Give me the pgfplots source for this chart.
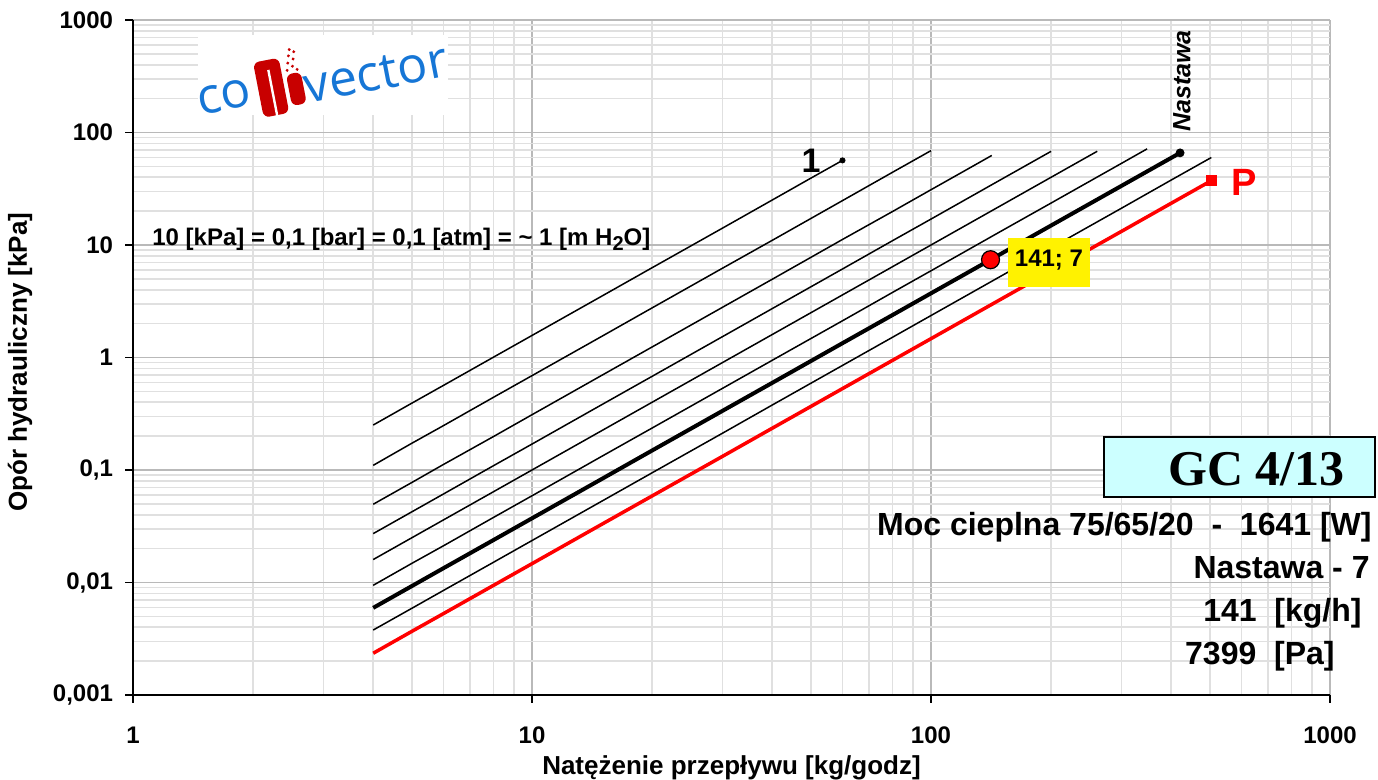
\documentclass[border=0pt]{standalone}
\usepackage{pgfplots}
\pgfplotsset{compat=1.18}
\usepackage{fontspec}
\setmainfont{Liberation Sans}
\newfontfamily\gcfont{Liberation Serif}
\newfontfamily\logofont{Open Sans}
\usepackage{graphicx}

\definecolor{majgrid}{RGB}{185,185,185}
\definecolor{mingrid}{RGB}{224,224,224}
\definecolor{logoblue}{RGB}{22,118,214}
\definecolor{logored}{RGB}{200,0,0}
\definecolor{gcbox}{RGB}{204,255,255}

\begin{document}
\begin{tikzpicture}[x=1pt,y=1pt]
\useasboundingbox (0,0) rectangle (689,390);
\begin{axis}[
  at={(66.5pt,42.5pt)}, anchor=south west,
  scale only axis, width=598.5pt, height=337.5pt,
  xmode=log, ymode=log,
  xmin=1, xmax=1000, ymin=0.001, ymax=1000,
  axis x line=bottom, axis y line=left,
  axis line style={-, line width=1pt, black},
  xtick={1,10,100,1000}, xticklabels={1,10,100,1000},
  ytick={0.001,0.01,0.1,1,10,100,1000},
  yticklabels={{0,001},{0,01},{0,1},1,10,100,1000},
  tick align=outside, major tick length=4pt, minor tick length=0pt,
  tick style={black, line width=0.8pt},
  grid=both,
  major grid style={majgrid, line width=0.9pt},
  minor grid style={mingrid, line width=0.8pt},
  ticklabel style={font=\fontsize{12}{14}\selectfont\bfseries},
  xticklabel style={yshift=-8.5pt},
  yticklabel style={xshift=-2.5pt},
  xlabel={Natężenie przepływu [kg/godz]},
  ylabel={Opór hydrauliczny [kPa]},
  label style={font=\fontsize{13}{15}\selectfont\bfseries},
  xlabel style={at={(axis description cs:0.5,-0.1081)}, anchor=center},
  ylabel style={at={(axis description cs:-0.0944,0.493)}, anchor=center},
  clip=false,
]
% pressure-drop curves for the valve settings
\addplot[black, line width=0.75pt] coordinates {(4,0.251) (5,0.393) (6,0.565) (8,1.005) (10,1.57) (15,3.53) (20,6.28) (30,14.1) (40,25.1) (50,39.3) (60,56.5)};
\addplot[black, line width=0.75pt] coordinates {(4,0.110) (5,0.173) (6,0.248) (8,0.442) (10,0.69) (15,1.55) (20,2.76) (30,6.21) (40,11.0) (60,24.8) (80,44.2) (100,69)};
\addplot[black, line width=0.75pt] coordinates {(4,0.0496) (5,0.0775) (6,0.112) (8,0.198) (10,0.31) (15,0.698) (20,1.24) (30,2.79) (40,4.96) (60,11.2) (80,19.8) (100,31) (120,44.6) (142,62.5)};
\addplot[black, line width=0.75pt] coordinates {(4,0.0272) (5,0.0425) (6,0.0612) (8,0.109) (10,0.17) (15,0.383) (20,0.68) (30,1.53) (40,2.72) (60,6.12) (80,10.9) (100,17) (150,38.3) (200,68)};
\addplot[black, line width=0.75pt] coordinates {(4,0.016) (5,0.025) (6,0.036) (8,0.064) (10,0.1) (15,0.225) (20,0.4) (30,0.9) (40,1.6) (60,3.6) (80,6.4) (100,10) (150,22.5) (200,40) (261,68.1)};
\addplot[black, line width=0.75pt] coordinates {(4,0.00944) (5,0.0148) (6,0.0212) (8,0.0378) (10,0.059) (15,0.133) (20,0.236) (30,0.531) (40,0.944) (60,2.12) (80,3.78) (100,5.9) (150,13.3) (200,23.6) (300,53.1) (348,71.5)};
% selected setting 7
\addplot[black, line width=2pt] coordinates {(4,0.00595) (5,0.0093) (6,0.0134) (8,0.0238) (10,0.0372) (15,0.0837) (20,0.149) (30,0.335) (40,0.595) (60,1.34) (80,2.38) (100,3.72) (141,7.399) (200,14.9) (300,33.5) (421,65.9)};
\addplot[black, line width=0.75pt] coordinates {(4,0.00378) (5,0.0059) (6,0.0085) (8,0.0151) (10,0.0236) (15,0.0531) (20,0.0944) (30,0.212) (40,0.378) (60,0.85) (80,1.51) (100,2.36) (150,5.31) (200,9.44) (300,21.2) (400,37.8) (504,59.9)};
% fully open (P)
\addplot[red, line width=1.75pt] coordinates {(4,0.00235) (5,0.00368) (6,0.00529) (8,0.00941) (10,0.0147) (15,0.0331) (20,0.0588) (30,0.132) (40,0.235) (60,0.529) (80,0.941) (100,1.47) (150,3.31) (200,5.88) (300,13.2) (400,23.5) (504,37.3)};
% end marks
\addplot[only marks, mark=*, mark size=1.3pt, black] coordinates {(60,56.5)};
\addplot[only marks, mark=*, mark size=2pt, black] coordinates {(421,65.9)};
\addplot[only marks, mark=square*, mark size=2.5pt, red] coordinates {(504,37.3)};
% operating point
\addplot[only marks, mark=*, mark size=4.5pt, mark options={fill=red, draw=black, line width=0.6pt}] coordinates {(141,7.399)};
\fill[yellow] ([xshift=8.7pt,yshift=10.85pt]axis cs:141,7.399) rectangle ([xshift=49.7pt,yshift=-13.65pt]axis cs:141,7.399);
\node[font=\fontsize{12}{14}\selectfont\bfseries, anchor=base, inner sep=0pt] at ([xshift=29.2pt,yshift=-3.5pt]axis cs:141,7.399) {141; 7};
\end{axis}

% logo
\fill[white] (99,332.5) rectangle (224,372.5);
\node[rotate=11, text=logoblue, font=\logofont\fontsize{25}{25}\selectfont, inner sep=0pt] at (112,341.5) {co};
\node[rotate=11, text=logoblue, font=\logofont\fontsize{25}{25}\selectfont, inner sep=0pt] at (188,353) {vector};
\begin{scope}[shift={(140,347)}, rotate=11]
  \fill[logored, rounded corners=3pt] (-11,-14) rectangle (2,14);
  \fill[white] (-4.8,-14.5) rectangle (-3.6,9);
  \fill[logored, rounded corners=3pt] (4,-11) rectangle (11.5,5);
  \foreach \p in {(5,7),(8,8.5),(10,6.5),(6,10.5),(9,12),(7,14),(10,15.5),(8,17)}
    \fill[logored] \p circle (0.8);
\end{scope}

% annotations
\node[font=\fontsize{12}{14}\selectfont\bfseries, anchor=base west, inner sep=0pt] at (76,267.2)
  {10 [kPa] = 0,1 [bar] = 0,1 [atm] = \textasciitilde{} 1 [m H\raisebox{-0.35ex}{\fontsize{10}{10}\selectfont 2}O]};
\node[font=\fontsize{17}{17}\selectfont\bfseries, anchor=base, inner sep=0pt] at (405.5,303.9) {1};
\node[font=\fontsize{19}{19}\selectfont\bfseries, text=red, anchor=base, inner sep=0pt] at (622,292.2) {P};
\node[font=\fontsize{12.5}{13}\selectfont\bfseries\itshape, rotate=90, inner sep=0pt] at (591,349.5) {Nastawa};

% product box and data
\draw[fill=gcbox, line width=0.6pt] (552,141.5) rectangle (687.5,171.5);
\node[font=\gcfont\fontsize{25}{25}\selectfont\bfseries, anchor=base, inner sep=0pt] at (628.25,147.2) {GC 4/13};
\node[font=\fontsize{16}{16}\selectfont\bfseries, anchor=base east, inner sep=0pt] at (686,122.3) {Moc cieplna 75/65/20~~-~~1641 [W]};
\node[font=\fontsize{16}{16}\selectfont\bfseries, anchor=base east, inner sep=0pt] at (685,100.8) {Nastawa - 7};
\node[font=\fontsize{16}{16}\selectfont\bfseries, anchor=base east, inner sep=0pt] at (681,79.3) {141~~[kg/h]};
\node[font=\fontsize{16}{16}\selectfont\bfseries, anchor=base east, inner sep=0pt] at (667.5,57.8) {7399~~[Pa]};
\end{tikzpicture}
\end{document}
